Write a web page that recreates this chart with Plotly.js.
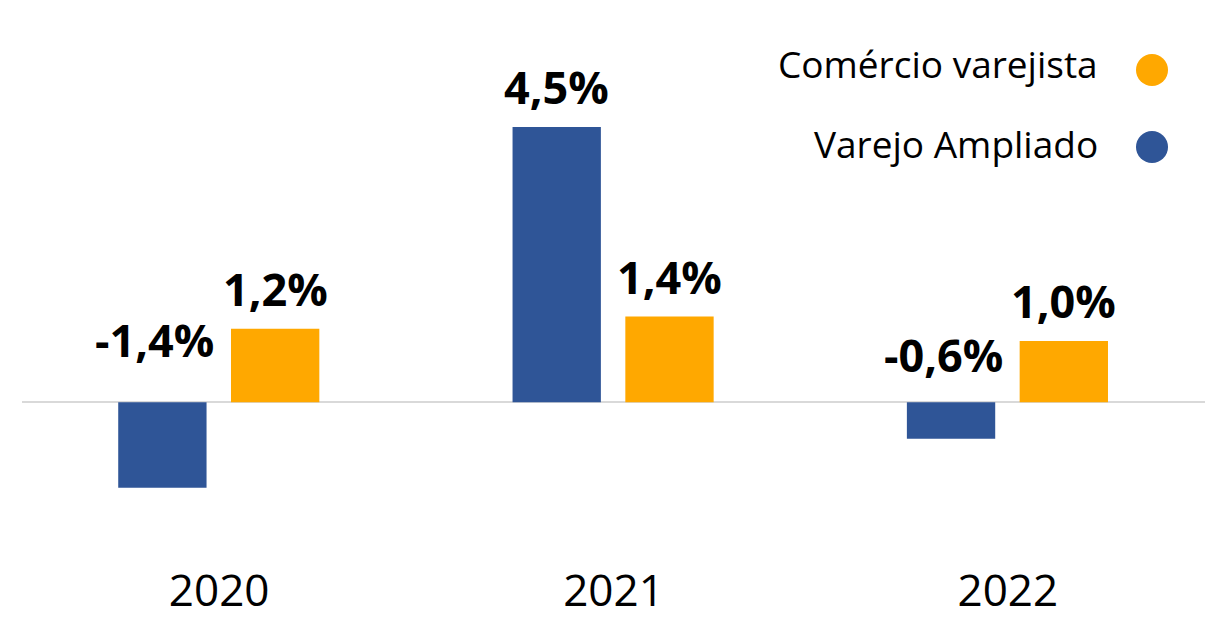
<!DOCTYPE html>
<html>
<head>
<meta charset="utf-8">
<script src="https://cdn.plot.ly/plotly-3.0.1.min.js"></script>
<style>html,body{margin:0;padding:0;background:#fff;}#chart{width:1217px;height:620px;}</style>
</head>
<body>
<div id="chart"></div>
<script>
const years = ['2020', '2021', '2022'];
const seriesNames = ['Varejo Ampliado', 'Comércio varejista'];
const varejoAmpliado = [-1.4, 4.5, -0.6];
const comercioVarejista = [1.2, 1.4, 1.0];

const colors = ['#2F5597', '#FFA800'];
const barWidth = 0.224;
const offsets = [-0.256, 0.030];
const negLabelShift = [44, 0, 29];

function fmt(v) { return v.toFixed(1).replace('.', ',') + '%'; }

const series = [varejoAmpliado, comercioVarejista];
const traces = series.map((vals, i) => ({
  type: 'bar',
  name: seriesNames[i],
  x: years,
  y: vals,
  width: vals.map(() => barWidth),
  offset: vals.map(() => offsets[i]),
  marker: { color: colors[i] },
  showlegend: false,
  hoverinfo: 'skip'
}));

const plotLeft = 22, plotW = 1183, plotTop = 20, plotH = 535;
const annotations = [];
series.forEach((vals, i) => {
  const cOff = offsets[i] + barWidth / 2;
  vals.forEach((v, j) => {
    if (v >= 0) {
      annotations.push({
        x: j + cOff, y: v, xref: 'x', yref: 'y',
        text: fmt(v), showarrow: false,
        xanchor: 'center', yanchor: 'bottom',
        yshift: 8,
        font: { family: 'Open Sans', size: 45, color: '#000', weight: 700 }
      });
    } else {
      annotations.push({
        x: j + cOff, y: 0, xref: 'x', yref: 'y',
        text: fmt(v), showarrow: false,
        xanchor: 'center', yanchor: 'bottom',
        xshift: -8, yshift: negLabelShift[j] - 14,
        font: { family: 'Open Sans', size: 45, color: '#000', weight: 700 }
      });
    }
  });
});

// legend (text left of marker)
const legendOrder = [1, 0];
const legendY = [64, 143];
const circleY = [70, 147];
const shapes = [];
legendOrder.forEach((si, k) => {
  annotations.push({
    xref: 'paper', yref: 'paper',
    x: (1100 - plotLeft) / plotW, y: (plotTop + plotH - legendY[k]) / plotH,
    xanchor: 'right', yanchor: 'middle',
    text: seriesNames[si], showarrow: false,
    font: { family: 'Open Sans', size: 37, color: '#000' }
  });
  shapes.push({
    type: 'circle', xref: 'paper', yref: 'paper',
    xsizemode: 'pixel', ysizemode: 'pixel',
    xanchor: (1152 - plotLeft) / plotW, yanchor: (plotTop + plotH - circleY[k]) / plotH,
    x0: -16, x1: 16, y0: -16, y1: 16,
    fillcolor: colors[si], line: { width: 0 }
  });
});

const layout = {
  width: 1217, height: 620,
  margin: { l: plotLeft, r: 1217 - plotLeft - plotW, t: plotTop, b: 620 - plotTop - plotH },
  paper_bgcolor: '#fff', plot_bgcolor: '#fff',
  xaxis: {
    type: 'category', range: [-0.5, 2.5],
    showgrid: false, showline: false, ticks: '',
    tickfont: { family: 'Open Sans', size: 44, color: '#000' },
    ticklabelstandoff: 6
  },
  yaxis: {
    range: [-2.5, 6.25], showgrid: false, showticklabels: false,
    zeroline: true, zerolinecolor: '#D9D9D9', zerolinewidth: 2, ticks: ''
  },
  annotations: annotations,
  shapes: shapes
};

Plotly.newPlot('chart', traces, layout, { staticPlot: true, displayModeBar: false });
</script>
</body>
</html>
